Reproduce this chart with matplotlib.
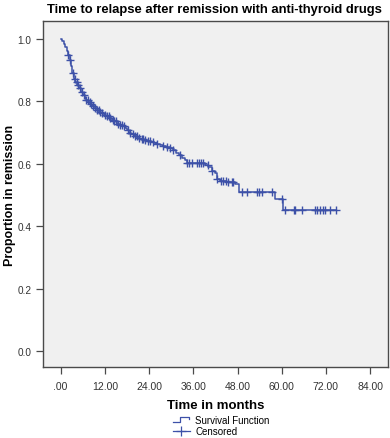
import matplotlib
matplotlib.use('Agg')
import matplotlib.pyplot as plt
from matplotlib.lines import Line2D
from matplotlib.legend_handler import HandlerBase
import numpy as np

plt.rcParams['font.family'] = ['Liberation Sans', 'DejaVu Sans']

# ---- data ----
event_times = [0.4, 0.8, 1.2, 1.6, 2.0, 2.4, 2.8, 3.2, 3.6, 4.0, 4.5, 5.0, 5.5, 6.0,
               6.5, 7.0, 7.5, 8.0, 8.6, 9.2, 9.8, 10.4, 11.0, 11.7, 12.4, 13.1, 13.8,
               14.5, 15.2, 16.0, 16.8, 17.5, 18.0, 18.5, 19.2, 20.0, 20.8, 21.6, 22.5,
               23.4, 24.4, 25.2, 26.0, 27.0, 27.8, 28.6, 29.6, 30.5, 31.4, 32.2, 33.0,
               33.7, 34.2, 39.2, 40.0, 41.0, 41.9, 42.3, 43.2, 45.0, 47.2, 48.3, 58.3,
               60.4]
survival = [0.993, 0.985, 0.975, 0.962, 0.948, 0.932, 0.912, 0.890, 0.872, 0.862,
            0.852, 0.842, 0.831, 0.821, 0.812, 0.804, 0.797, 0.791, 0.785, 0.779,
            0.773, 0.767, 0.762, 0.757, 0.752, 0.747, 0.741, 0.736, 0.729, 0.724,
            0.720, 0.716, 0.708, 0.700, 0.695, 0.689, 0.684, 0.679, 0.676, 0.673,
            0.670, 0.667, 0.664, 0.661, 0.658, 0.655, 0.651, 0.643, 0.636, 0.628,
            0.619, 0.611, 0.604, 0.597, 0.589, 0.578, 0.571, 0.552, 0.546, 0.541,
            0.535, 0.511, 0.487, 0.453]
censor_times = [2.1, 2.5, 3.4, 3.8, 4.3, 4.7, 5.2, 5.8, 6.4, 7.0, 7.4, 7.9, 8.3, 8.8,
                9.4, 9.9, 10.3, 10.8, 11.3, 11.9, 12.5, 13.0, 13.5, 14.1, 14.6, 15.0,
                15.6, 16.2, 16.6, 17.2, 18.2, 18.8, 19.5, 20.1, 20.6, 21.2, 22.0, 22.4,
                23.0, 23.8, 24.3, 25.1, 26.1, 27.8, 28.9, 29.7, 30.5, 32.4, 34.3, 34.8,
                35.6, 37.0, 37.5, 38.1, 38.6, 39.9, 41.1, 42.5, 43.5, 44.0, 44.8, 45.4,
                46.4, 46.8, 49.1, 50.5, 53.3, 53.8, 54.6, 57.3, 60.0, 60.9, 63.3, 63.6,
                65.6, 69.0, 69.6, 70.4, 71.2, 71.7, 73.1, 74.6]
x_ticks = [0, 12, 24, 36, 48, 60, 72, 84]
x_tick_labels = ['.00', '12.00', '24.00', '36.00', '48.00', '60.00', '72.00', '84.00']
y_ticks = [0.0, 0.2, 0.4, 0.6, 0.8, 1.0]
y_tick_labels = ['0.0', '0.2', '0.4', '0.6', '0.8', '1.0']

title = 'Time to relapse after remission with anti-thyroid drugs'
xlabel = 'Time in months'
ylabel = 'Proportion in remission'

color = '#3D51A8'
frame_color = '#4A4A4A'
text_color = '#333333'

fig = plt.figure(figsize=(3.9, 4.39), dpi=100)
ax = fig.add_axes([43 / 390, 1 - 368 / 439, 345 / 390, 346 / 439])
ax.set_facecolor('#F0F0F0')

t_full = [0.0] + event_times + [censor_times[-1]]
s_full = [1.0] + survival + [survival[-1]]
ax.step(t_full, s_full, where='post', color=color, lw=1.1)

s_steps = np.array([1.0] + survival)
idx = np.searchsorted(np.array(event_times), np.array(censor_times), side='right')
ax.plot(censor_times, s_steps[idx], linestyle='none', marker='+', markersize=5.5,
        markeredgewidth=1.0, color=color)

ax.set_xlim(-4.8, 88.85)
ax.set_ylim(-0.0513, 1.0577)
ax.set_xticks(x_ticks)
ax.set_xticklabels(x_tick_labels)
ax.set_yticks(y_ticks)
ax.set_yticklabels(y_tick_labels)
ax.tick_params(axis='both', direction='out', colors=frame_color, labelcolor=text_color,
               labelsize=7.5, width=0.9)
ax.tick_params(axis='x', length=5, pad=5)
ax.tick_params(axis='y', length=5, pad=3.5, labelsize=7.2)
for sp in ax.spines.values():
    sp.set_color(frame_color)
    sp.set_linewidth(1.0)

ax.set_xlabel(xlabel, fontsize=9.5, fontweight='bold', color='black', labelpad=6)
fig.text(10 / 390, 1 - 195 / 439, ylabel, ha='center', va='center', rotation=90,
         fontsize=9, fontweight='bold', color='black')
fig.text(214 / 390, 1 - 10 / 439, title, ha='center', va='center', fontsize=9.4,
         fontweight='bold', color='black')


class StepHandler(HandlerBase):
    def create_artists(self, legend, orig_handle, xdescent, ydescent, width, height,
                       fontsize, trans):
        x0, y0 = -xdescent, -ydescent
        xs = [x0, x0 + width * 0.45, x0 + width * 0.45, x0 + width * 0.95, x0 + width * 0.95]
        ys = [y0 + height * 0.1, y0 + height * 0.1, y0 + height * 0.9, y0 + height * 0.9,
              y0 + height * 0.6]
        return [Line2D(xs, ys, color=orig_handle.get_color(), lw=0.9, transform=trans)]


h1 = Line2D([], [], color=color, lw=0.9)
h2 = Line2D([], [], color=color, lw=0.9, marker='+', markersize=7, markeredgewidth=0.9)
fig.legend([h1, h2], ['Survival Function', 'Censored'], loc='upper left',
           bbox_to_anchor=(173 / 390, 1 - 416 / 439), frameon=False, fontsize=7,
           handlelength=1.7, handletextpad=0.6, labelspacing=0.15, borderpad=0,
           borderaxespad=0, handler_map={h1: StepHandler()})

fig.savefig('out.png', dpi=100, facecolor='white')
